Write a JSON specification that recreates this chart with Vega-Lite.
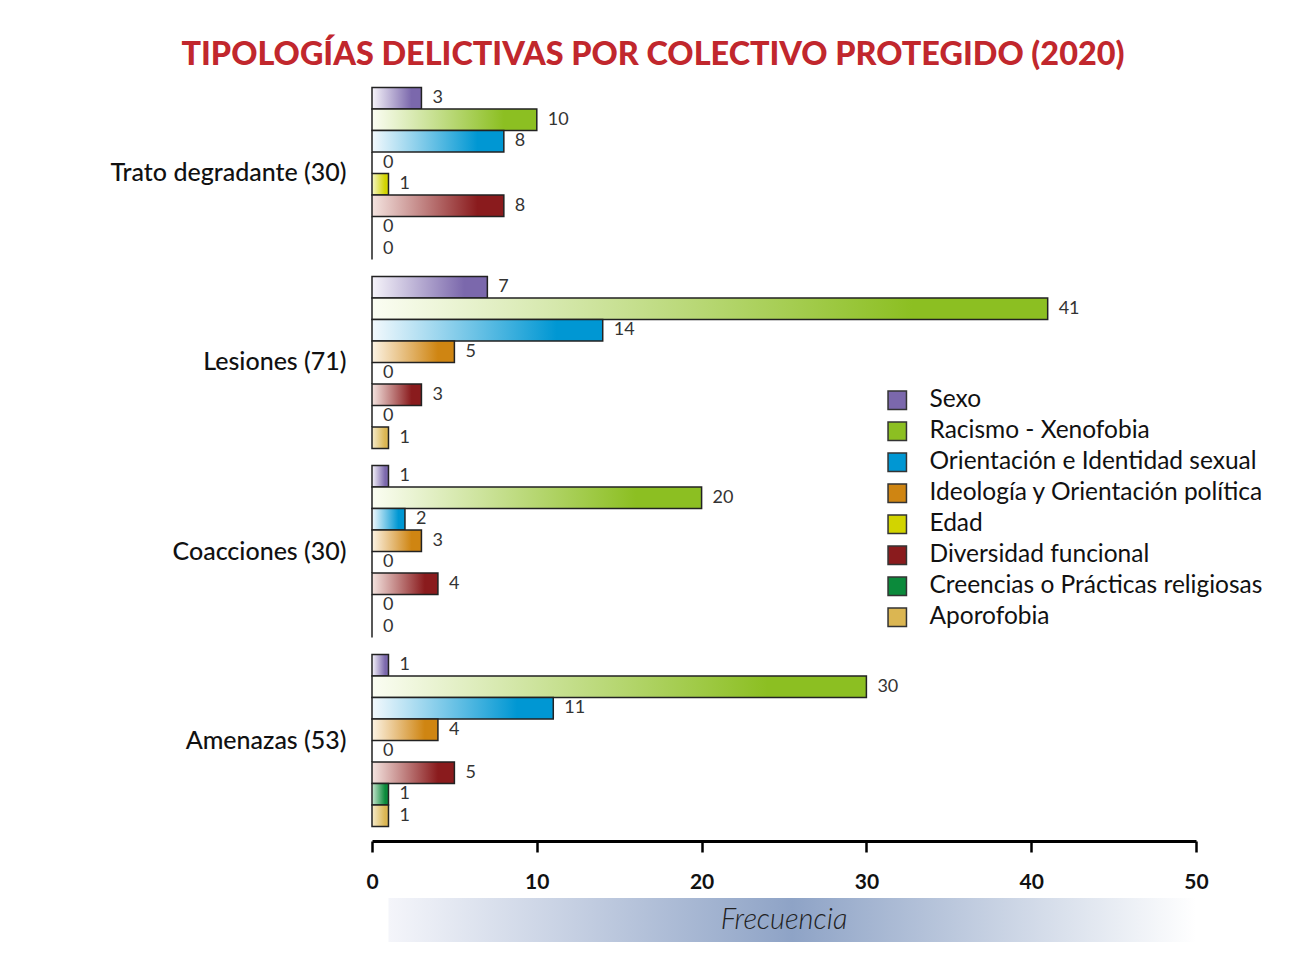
{
  "$schema": "https://vega.github.io/schema/vega-lite/v6.json",
  "background": "white",
  "padding": {"left": 109, "top": 38, "right": 10, "bottom": 10},
  "title": {
    "text": "TIPOLOGÍAS DELICTIVAS POR COLECTIVO PROTEGIDO (2020)",
    "anchor": "middle",
    "font": "Lato",
    "fontSize": 32.4,
    "fontWeight": 900,
    "color": "#c1272d",
    "offset": 2,
    "dx": -34
  },
  "datasets": {
    "bars": [
      {"tipologia": "Trato degradante (30)", "colectivo": "Sexo", "n": 3},
      {"tipologia": "Trato degradante (30)", "colectivo": "Racismo - Xenofobia", "n": 10},
      {"tipologia": "Trato degradante (30)", "colectivo": "Orientación e Identidad sexual", "n": 8},
      {"tipologia": "Trato degradante (30)", "colectivo": "Ideología y Orientación política", "n": 0},
      {"tipologia": "Trato degradante (30)", "colectivo": "Edad", "n": 1},
      {"tipologia": "Trato degradante (30)", "colectivo": "Diversidad funcional", "n": 8},
      {"tipologia": "Trato degradante (30)", "colectivo": "Creencias o Prácticas religiosas", "n": 0},
      {"tipologia": "Trato degradante (30)", "colectivo": "Aporofobia", "n": 0},
      {"tipologia": "Lesiones (71)", "colectivo": "Sexo", "n": 7},
      {"tipologia": "Lesiones (71)", "colectivo": "Racismo - Xenofobia", "n": 41},
      {"tipologia": "Lesiones (71)", "colectivo": "Orientación e Identidad sexual", "n": 14},
      {"tipologia": "Lesiones (71)", "colectivo": "Ideología y Orientación política", "n": 5},
      {"tipologia": "Lesiones (71)", "colectivo": "Edad", "n": 0},
      {"tipologia": "Lesiones (71)", "colectivo": "Diversidad funcional", "n": 3},
      {"tipologia": "Lesiones (71)", "colectivo": "Creencias o Prácticas religiosas", "n": 0},
      {"tipologia": "Lesiones (71)", "colectivo": "Aporofobia", "n": 1},
      {"tipologia": "Coacciones (30)", "colectivo": "Sexo", "n": 1},
      {"tipologia": "Coacciones (30)", "colectivo": "Racismo - Xenofobia", "n": 20},
      {"tipologia": "Coacciones (30)", "colectivo": "Orientación e Identidad sexual", "n": 2},
      {"tipologia": "Coacciones (30)", "colectivo": "Ideología y Orientación política", "n": 3},
      {"tipologia": "Coacciones (30)", "colectivo": "Edad", "n": 0},
      {"tipologia": "Coacciones (30)", "colectivo": "Diversidad funcional", "n": 4},
      {"tipologia": "Coacciones (30)", "colectivo": "Creencias o Prácticas religiosas", "n": 0},
      {"tipologia": "Coacciones (30)", "colectivo": "Aporofobia", "n": 0},
      {"tipologia": "Amenazas (53)", "colectivo": "Sexo", "n": 1},
      {"tipologia": "Amenazas (53)", "colectivo": "Racismo - Xenofobia", "n": 30},
      {"tipologia": "Amenazas (53)", "colectivo": "Orientación e Identidad sexual", "n": 11},
      {"tipologia": "Amenazas (53)", "colectivo": "Ideología y Orientación política", "n": 4},
      {"tipologia": "Amenazas (53)", "colectivo": "Edad", "n": 0},
      {"tipologia": "Amenazas (53)", "colectivo": "Diversidad funcional", "n": 5},
      {"tipologia": "Amenazas (53)", "colectivo": "Creencias o Prácticas religiosas", "n": 1},
      {"tipologia": "Amenazas (53)", "colectivo": "Aporofobia", "n": 1}
    ],
    "banda": [
      {"desde": 1, "hasta": 50, "centro": 25, "etiqueta": "Frecuencia"}
    ]
  },
  "spacing": 6,
  "vconcat": [
    {
      "width": 824,
      "height": 768,
      "data": {"name": "bars"},
      "encoding": {
        "y": {
          "field": "tipologia",
          "type": "nominal",
          "sort": ["Trato degradante (30)", "Lesiones (71)", "Coacciones (30)", "Amenazas (53)"],
          "scale": {"paddingInner": 0.09, "paddingOuter": 0.0766},
          "axis": {
            "title": null,
            "ticks": false,
            "domain": false,
            "labelPadding": 26,
            "labelFont": "Lato",
            "labelFontSize": 25,
            "labelFontWeight": 500,
            "labelColor": "#111111",
            "labelLimit": 400
          }
        },
        "yOffset": {
          "field": "colectivo",
          "type": "nominal",
          "sort": ["Sexo", "Racismo - Xenofobia", "Orientación e Identidad sexual", "Ideología y Orientación política", "Edad", "Diversidad funcional", "Creencias o Prácticas religiosas", "Aporofobia"],
          "scale": {"paddingInner": 0, "paddingOuter": 0}
        },
        "x": {
          "field": "n",
          "type": "quantitative",
          "scale": {"domain": [0, 50], "nice": false},
          "axis": {
            "title": null,
            "grid": false,
            "values": [0, 10, 20, 30, 40, 50],
            "labelFont": "Lato",
            "labelFontSize": 21,
            "labelFontWeight": "bold",
            "labelColor": "#111111",
            "labelPadding": 19,
            "labelFlush": false,
            "domainColor": "#000000",
            "domainWidth": 3,
            "tickColor": "#000000",
            "tickWidth": 2.5,
            "tickSize": 11
          }
        }
      },
      "layer": [
        {
          "mark": {"type": "bar", "stroke": "#222222", "strokeWidth": 1.5},
          "encoding": {
            "fill": {
              "condition": [
                {"test": "datum.colectivo === 'Sexo'", "value": {"gradient": "linear", "x1": 0, "y1": 0, "x2": 1, "y2": 0, "stops": [{"offset": 0, "color": "#f6f4fa"}, {"offset": 0.8, "color": "#7b68ac"}, {"offset": 1, "color": "#7b68ac"}]}},
                {"test": "datum.colectivo === 'Racismo - Xenofobia'", "value": {"gradient": "linear", "x1": 0, "y1": 0, "x2": 1, "y2": 0, "stops": [{"offset": 0, "color": "#fbfdf3"}, {"offset": 0.8, "color": "#8cbf22"}, {"offset": 1, "color": "#8cbf22"}]}},
                {"test": "datum.colectivo === 'Orientación e Identidad sexual'", "value": {"gradient": "linear", "x1": 0, "y1": 0, "x2": 1, "y2": 0, "stops": [{"offset": 0, "color": "#f3f9fd"}, {"offset": 0.8, "color": "#0097d3"}, {"offset": 1, "color": "#0097d3"}]}},
                {"test": "datum.colectivo === 'Ideología y Orientación política'", "value": {"gradient": "linear", "x1": 0, "y1": 0, "x2": 1, "y2": 0, "stops": [{"offset": 0, "color": "#fcf3e4"}, {"offset": 0.8, "color": "#cf8512"}, {"offset": 1, "color": "#cf8512"}]}},
                {"test": "datum.colectivo === 'Edad'", "value": {"gradient": "linear", "x1": 0, "y1": 0, "x2": 1, "y2": 0, "stops": [{"offset": 0, "color": "#f5f6c8"}, {"offset": 0.8, "color": "#d2d400"}, {"offset": 1, "color": "#d2d400"}]}},
                {"test": "datum.colectivo === 'Diversidad funcional'", "value": {"gradient": "linear", "x1": 0, "y1": 0, "x2": 1, "y2": 0, "stops": [{"offset": 0, "color": "#f4e4e0"}, {"offset": 0.8, "color": "#8a1b1d"}, {"offset": 1, "color": "#8a1b1d"}]}},
                {"test": "datum.colectivo === 'Creencias o Prácticas religiosas'", "value": {"gradient": "linear", "x1": 0, "y1": 0, "x2": 1, "y2": 0, "stops": [{"offset": 0, "color": "#c9e6d0"}, {"offset": 0.8, "color": "#0b8a3b"}, {"offset": 1, "color": "#0b8a3b"}]}}
              ],
              "value": {"gradient": "linear", "x1": 0, "y1": 0, "x2": 1, "y2": 0, "stops": [{"offset": 0, "color": "#f5ebcc"}, {"offset": 0.8, "color": "#dbb652"}, {"offset": 1, "color": "#dbb652"}]}
            }
          }
        },
        {
          "mark": {"type": "text", "align": "left", "baseline": "middle", "dx": 11, "font": "Lato", "fontSize": 18, "color": "#333333"},
          "encoding": {
            "text": {"field": "n", "type": "quantitative"}
          }
        },
        {
          "mark": {"type": "square", "size": 0, "filled": true},
          "encoding": {
            "x": {"datum": 0},
            "color": {
              "field": "colectivo",
              "type": "nominal",
              "sort": ["Sexo", "Racismo - Xenofobia", "Orientación e Identidad sexual", "Ideología y Orientación política", "Edad", "Diversidad funcional", "Creencias o Prácticas religiosas", "Aporofobia"],
              "scale": {
                "domain": ["Sexo", "Racismo - Xenofobia", "Orientación e Identidad sexual", "Ideología y Orientación política", "Edad", "Diversidad funcional", "Creencias o Prácticas religiosas", "Aporofobia"],
                "range": ["#7b68ac", "#8cbf22", "#0097d3", "#cf8512", "#d2d400", "#8a1b1d", "#0b8a3b", "#dbb652"]
              },
              "legend": {
                "title": null,
                "orient": "none",
                "legendX": 513,
                "legendY": 315,
                "symbolType": "square",
                "symbolSize": 340,
                "symbolStrokeColor": "#333333",
                "symbolStrokeWidth": 1.5,
                "symbolOpacity": 1,
                "labelFont": "Lato",
                "labelFontSize": 24.5,
                "labelColor": "#111111",
                "labelOffset": 20,
                "labelLimit": 400,
                "rowPadding": 5,
                "padding": 0
              }
            }
          }
        }
      ]
    },
    {
      "width": 824,
      "height": 44,
      "data": {"name": "banda"},
      "layer": [
        {
          "mark": {
            "type": "rect",
            "fill": {"gradient": "linear", "x1": 0, "y1": 0, "x2": 1, "y2": 0, "stops": [{"offset": 0, "color": "#f4f5fa"}, {"offset": 0.5, "color": "#8ea3c6"}, {"offset": 1, "color": "#ffffff"}]}
          },
          "encoding": {
            "x": {"field": "desde", "type": "quantitative", "scale": {"domain": [0, 50], "nice": false}, "axis": null},
            "x2": {"field": "hasta"}
          }
        },
        {
          "mark": {"type": "text", "font": "Lato", "fontSize": 29, "fontStyle": "italic", "fontWeight": 300, "color": "#222222", "baseline": "middle", "align": "center"},
          "encoding": {
            "x": {"field": "centro", "type": "quantitative", "scale": {"domain": [0, 50], "nice": false}, "axis": null},
            "text": {"field": "etiqueta"}
          }
        }
      ]
    }
  ],
  "config": {
    "view": {"stroke": null},
    "font": "Lato"
  }
}
